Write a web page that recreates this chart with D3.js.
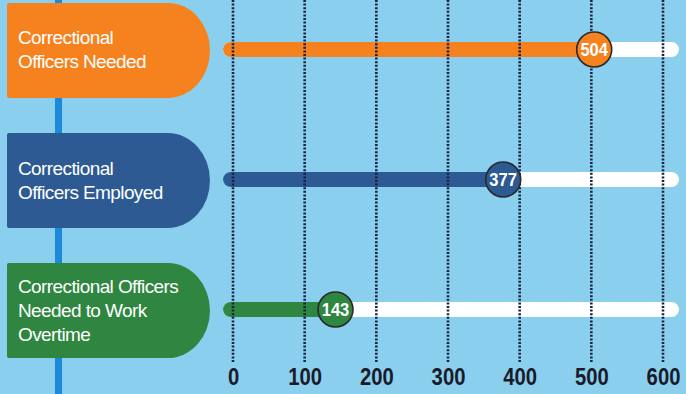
<!DOCTYPE html>
<html>
<head>
<meta charset="utf-8">
<script src="https://cdn.jsdelivr.net/npm/d3@7"></script>
<style>
  html, body { margin: 0; padding: 0; background: #8bcfee; }
  svg { display: block; }
</style>
</head>
<body>
<svg id="chart" width="686" height="394"></svg>
<script>
// Category labels (one entry per line of text)
const categories = [
  ["Correctional", "Officers Needed"],
  ["Correctional", "Officers Employed"],
  ["Correctional Officers", "Needed to Work", "Overtime"]
];
const values = [504, 377, 143];
const colors = ["#f5821f", "#2d5a92", "#2e8640"];
const tickValues = [0, 100, 200, 300, 400, 500, 600];

const W = 686, H = 394;
const svg = d3.select("#chart");

svg.append("rect").attr("width", W).attr("height", H).attr("fill", "#8bcfee");

const x = d3.scaleLinear().domain([0, 600]).range([233, 663]);
const y = d3.scaleBand().domain(d3.range(values.length)).range([3, 358]).paddingInner(0.27).paddingOuter(0);

// vertical spine behind the label tabs
svg.append("rect").attr("x", 55).attr("y", 0).attr("width", 7).attr("height", H).attr("fill", "#1c8ad8");

// label tabs: square left side, rounded right side
const tabLeft = 7, tabRight = 210, rx = 42;
function tabPath(top, bottom) {
  const ry = (bottom - top) / 2;
  return `M${tabLeft},${top + 2} Q${tabLeft},${top} ${tabLeft + 2},${top}` +
    ` L${tabRight - rx},${top}` +
    ` A${rx},${ry} 0 0 1 ${tabRight - rx},${bottom}` +
    ` L${tabLeft + 2},${bottom} Q${tabLeft},${bottom} ${tabLeft},${bottom - 2} Z`;
}

const rows = svg.selectAll("g.row").data(values).join("g").attr("class", "row");

rows.append("path")
  .attr("d", (d, i) => tabPath(y(i), y(i) + y.bandwidth()))
  .attr("fill", (d, i) => colors[i]);

rows.append("text")
  .attr("font-family", "Liberation Sans, Arial, sans-serif")
  .attr("font-size", 19)
  .attr("letter-spacing", -0.6)
  .attr("fill", "#ffffff")
  .each(function(d, i) {
    const lines = categories[i];
    const mid = y(i) + y.bandwidth() / 2;
    const lh = 24;
    const first = mid - (lines.length - 1) * lh / 2 + 6;
    d3.select(this).selectAll("tspan").data(lines).join("tspan")
      .attr("x", 18)
      .attr("y", (t, k) => first + k * lh)
      .text(t => t);
  });

// tracks and bars
const barH = 15;
const barStart = 223;
const cy = i => y(i) + y.bandwidth() / 2 - 1;

rows.append("rect")
  .attr("x", barStart)
  .attr("y", (d, i) => cy(i) - barH / 2)
  .attr("width", 679 - barStart)
  .attr("height", barH)
  .attr("rx", barH / 2)
  .attr("fill", "#ffffff");

rows.append("rect")
  .attr("x", barStart)
  .attr("y", (d, i) => cy(i) - barH / 2)
  .attr("width", d => x(d) - barStart)
  .attr("height", barH)
  .attr("rx", barH / 2)
  .attr("fill", (d, i) => colors[i]);

// dotted gridlines
svg.append("g").selectAll("line").data(tickValues).join("line")
  .attr("x1", d => x(d)).attr("x2", d => x(d))
  .attr("y1", 0).attr("y2", 362)
  .attr("stroke", "#15233f")
  .attr("stroke-width", 2.6)
  .attr("stroke-dasharray", "2,1.6");

// value markers
const marks = svg.append("g").selectAll("g").data(values).join("g")
  .attr("transform", (d, i) => `translate(${x(d)},${cy(i)})`);
marks.append("circle")
  .attr("r", 17.5)
  .attr("fill", (d, i) => colors[i])
  .attr("stroke", "#2a2a2a")
  .attr("stroke-width", 1.6);
marks.append("text")
  .attr("text-anchor", "middle")
  .attr("dy", "0.36em")
  .attr("transform", "scale(0.92,1)")
  .attr("font-family", "Liberation Sans, Arial, sans-serif")
  .attr("font-weight", "bold")
  .attr("font-size", 18)
  .attr("fill", "#ffffff")
  .text(d => d);

// axis tick labels
const axis = d3.axisBottom(x).tickValues(tickValues).tickSize(0).tickPadding(0);
const ax = svg.append("g").attr("transform", "translate(0,368)").call(axis);
ax.select(".domain").remove();
ax.selectAll("text")
  .attr("dy", "0.72em")
  .attr("transform", "scale(0.88,1)")
  .attr("font-family", "Liberation Sans, Arial, sans-serif")
  .attr("font-weight", "bold")
  .attr("font-size", 23)
  .attr("fill", "#1a1a2a");
ax.selectAll(".tick").each(function(d) {
  // keep each label centred on its tick after the horizontal squeeze
  d3.select(this).select("text").attr("x", 0);
});
</script>
</body>
</html>
